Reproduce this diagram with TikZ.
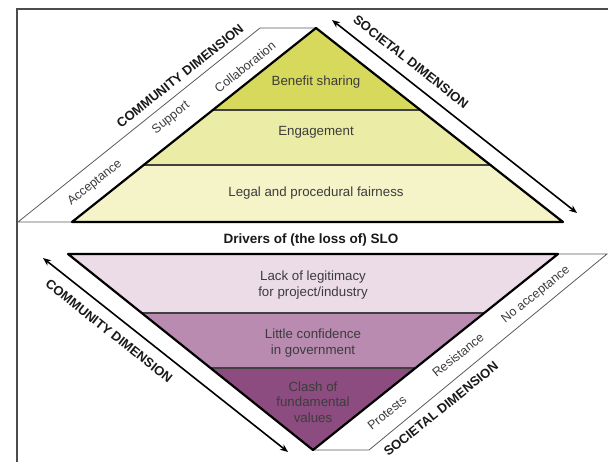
\documentclass[tikz,border=0pt]{standalone}
\usepackage{fontspec}
\setmainfont{Liberation Sans}
\usetikzlibrary{arrows.meta,calc}
\definecolor{yA}{HTML}{D6D95C}
\definecolor{yB}{HTML}{EBEDA6}
\definecolor{yC}{HTML}{F4F4C8}
\definecolor{pA}{HTML}{EBDCE8}
\definecolor{pB}{HTML}{B98BB0}
\definecolor{pC}{HTML}{8C4C80}
\definecolor{txtgray}{HTML}{3C3C3C}
\definecolor{linegray}{HTML}{5A5A5A}
\tikzset{
  bandtext/.style={font=\fontsize{13.3}{15.5}\selectfont, text=txtgray, align=center, inner sep=0pt},
  sidetext/.style={font=\fontsize{12.5}{14}\selectfont, text=txtgray, inner sep=0pt},
  dimtext/.style={font=\fontsize{13}{15}\selectfont\bfseries, text=black!90, inner sep=0pt},
  thickside/.style={line width=2.2pt, black, line join=round},
  divider/.style={line width=1.2pt, black!75},
  thinline/.style={line width=0.8pt, linegray},
  dimarrow/.style={line width=1.6pt, {Stealth[length=8pt,width=6.5pt]}-{Stealth[length=8pt,width=6.5pt]}},
  framestyle/.style={line width=1.8pt, black!70}
}
\begin{document}
\begin{tikzpicture}[x=1pt,y=-1pt]
\useasboundingbox (0,0) rectangle (608,462);
% frame
\coordinate (f1) at (17,462);
\coordinate (f2) at (17,9);
\coordinate (f3) at (608,9);
\draw[framestyle] (f1) -- (f2) -- (f3);

% ---------- upper triangle ----------
\coordinate (A) at (316,28);
\coordinate (L) at (72,222);
\coordinate (R) at (563,222);
\coordinate (a1l) at ($(A)!0.4227!(L)$);
\coordinate (a1r) at ($(A)!0.4227!(R)$);
\coordinate (a2l) at ($(A)!0.7062!(L)$);
\coordinate (a2r) at ($(A)!0.7062!(R)$);
\fill[yA] (A) -- (a1l) -- (a1r) -- cycle;
\fill[yB] (a1l) -- (a2l) -- (a2r) -- (a1r) -- cycle;
\fill[yC] (a2l) -- (L) -- (R) -- (a2r) -- cycle;
\draw[divider] (a1l) -- (a1r);
\draw[divider] (a2l) -- (a2r);
% left parallelogram
\coordinate (uo1) at (260,28);
\coordinate (uo2) at (18,222);
\draw[thinline] (A) -- (uo1) -- (uo2) -- (L);
\draw[thickside] (L) -- (A) -- (R) -- cycle;

\node[bandtext] (t1) at (316,82) {Benefit sharing};
\node[bandtext] (t2) at (316,132) {Engagement};
\node[bandtext] (t3) at (316,193) {Legal and procedural fairness};

\node[sidetext, rotate=38.5] (s1) at (95,183) {Acceptance};
\node[sidetext, rotate=38.5] (s2) at (171,118) {Support};
\node[sidetext, rotate=38.5] (s3) at (245,67) {Collaboration};
\node[dimtext, rotate=38.5] (cd1) at (180,76) {COMMUNITY DIMENSION};

\coordinate (ua1) at (332,20);
\coordinate (ua2) at (577,213);
\draw[dimarrow] (ua1) -- (ua2);
\node[dimtext, rotate=-38.2] (sd1) at (411,62) {SOCIETAL DIMENSION};

\node[font=\fontsize{13.5}{15}\selectfont\bfseries, text=black!90, inner sep=0pt] (drv) at (311,240) {Drivers of (the loss of) SLO};

% ---------- lower triangle ----------
\coordinate (TL) at (68,254);
\coordinate (TR) at (558,254);
\coordinate (B) at (313,450);
\coordinate (b1l) at ($(TL)!0.301!(B)$);
\coordinate (b1r) at ($(TR)!0.301!(B)$);
\coordinate (b2l) at ($(TL)!0.5816!(B)$);
\coordinate (b2r) at ($(TR)!0.5816!(B)$);
\fill[pA] (TL) -- (TR) -- (b1r) -- (b1l) -- cycle;
\fill[pB] (b1l) -- (b1r) -- (b2r) -- (b2l) -- cycle;
\fill[pC] (b2l) -- (b2r) -- (B) -- cycle;
\draw[divider] (b1l) -- (b1r);
\draw[divider] (b2l) -- (b2r);
% right parallelogram
\coordinate (lo1) at (607,254);
\coordinate (lo2) at (369,450);
\draw[thinline] (TR) -- (lo1) -- (lo2) -- (B);
\draw[thickside] (TL) -- (TR) -- (B) -- cycle;

\node[bandtext] (u1) at (313,285) {Lack of legitimacy\\for project/industry};
\node[bandtext] (u2) at (313,343) {Little confidence\\in government};
\node[bandtext] (u3) at (313,402) {Clash of\\fundamental\\values};

\node[sidetext, rotate=38.7] (r1) at (387,413) {Protests};
\node[sidetext, rotate=38.7] (r2) at (458,355) {Resistance};
\node[sidetext, rotate=38.7] (r3) at (536,295) {No acceptance};
\node[dimtext, rotate=38.7] (sd2) at (441,409) {SOCIETAL DIMENSION};

\coordinate (la1) at (43,258);
\coordinate (la2) at (288,452);
\draw[dimarrow] (la1) -- (la2);
\node[dimtext, rotate=-38.4] (cd2) at (109,331) {COMMUNITY DIMENSION};
\end{tikzpicture}
\end{document}
